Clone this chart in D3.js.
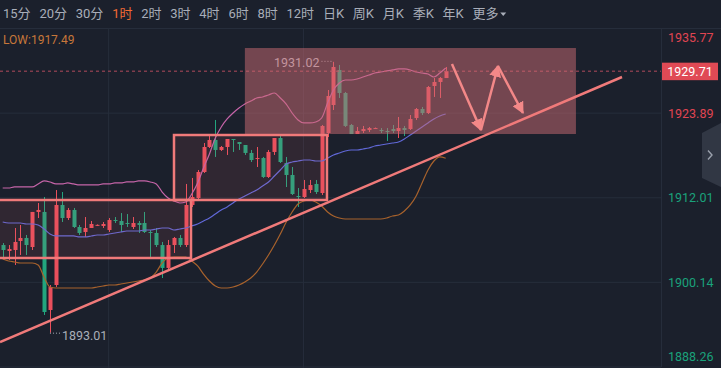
<!DOCTYPE html>
<html>
<head>
<meta charset="utf-8">
<script src="https://cdn.jsdelivr.net/npm/d3@7/dist/d3.min.js"></script>
<style>
  body { margin: 0; background: #1b202c; overflow: hidden; }
  svg { display: block; }
  text { font-family: Roboto, "Noto Sans CJK SC", sans-serif; }
</style>
</head>
<body>
<svg id="chart" width="721" height="368"></svg>
<script>

/* K线 1小时 + 布林带 + 画线 */

const periods = ["15分", "20分", "30分", "1时", "2时", "3时", "4时", "6时", "8时", "12时", "日K", "周K", "月K", "季K", "年K", "更多"];
const activePeriod = "1时";

const opens = [1905.31, 1904.47, 1904.61, 1905.88, 1906.30, 1905.03, 1909.95, 1909.95, 1896.19, 1899.70,
    1910.93, 1909.10, 1910.23, 1907.84, 1907.14, 1907.70, 1908.10, 1907.98, 1907.42, 1908.82,
    1908.68, 1908.40, 1907.84, 1908.40, 1908.40, 1907.14, 1907.00, 1905.31, 1902.09, 1905.31,
    1906.30, 1905.31, 1910.93, 1911.91, 1915.56, 1919.07, 1920.05, 1918.65, 1919.07, 1920.19,
    1919.77, 1919.35, 1918.23, 1917.38, 1917.52, 1914.86, 1918.37, 1920.33, 1916.82, 1915.14,
    1912.19, 1912.05, 1913.03, 1913.88, 1912.61, 1921.03, 1924.96, 1929.88, 1926.65, 1922.16,
    1920.89, 1921.31, 1921.45, 1921.66, 1921.45, 1921.31, 1921.59, 1921.31, 1921.73, 1921.59,
    1923.14, 1924.40, 1923.84, 1927.63, 1928.19, 1928.75];
const highs = [1905.59, 1905.31, 1907.70, 1908.12, 1906.72, 1909.95, 1911.21, 1912.05, 1899.70, 1913.03,
    1912.75, 1910.51, 1910.51, 1908.12, 1909.24, 1908.68, 1908.20, 1908.54, 1909.10, 1909.24,
    1909.80, 1909.66, 1909.24, 1908.68, 1909.95, 1907.42, 1907.70, 1905.74, 1906.02, 1906.44,
    1906.72, 1913.88, 1914.72, 1915.84, 1919.63, 1920.75, 1922.86, 1919.21, 1920.19, 1920.19,
    1919.77, 1919.35, 1918.65, 1919.07, 1917.67, 1918.65, 1920.33, 1920.61, 1917.67, 1916.26,
    1913.31, 1914.44, 1914.44, 1914.44, 1922.16, 1927.07, 1931.02, 1930.58, 1926.79, 1922.30,
    1921.88, 1922.02, 1921.88, 1921.80, 1921.73, 1921.73, 1922.16, 1923.28, 1922.02, 1923.56,
    1924.54, 1924.68, 1927.63, 1928.75, 1928.89, 1930.30];
const lows = [1903.63, 1903.21, 1902.51, 1903.91, 1903.91, 1904.61, 1909.10, 1895.49, 1893.01, 1899.42,
    1908.54, 1908.82, 1907.70, 1906.72, 1906.44, 1907.70, 1908.00, 1907.70, 1907.14, 1908.40,
    1907.14, 1907.84, 1907.56, 1907.00, 1907.00, 1903.63, 1905.03, 1900.68, 1901.81, 1904.19,
    1905.03, 1905.03, 1910.65, 1911.63, 1915.42, 1918.93, 1917.67, 1918.51, 1917.95, 1918.37,
    1918.65, 1917.95, 1916.96, 1916.26, 1914.72, 1914.72, 1917.95, 1916.82, 1913.45, 1912.33,
    1910.65, 1911.91, 1912.61, 1912.47, 1912.33, 1920.47, 1924.26, 1925.95, 1921.88, 1920.89,
    1920.89, 1921.03, 1921.17, 1921.62, 1921.03, 1919.91, 1921.03, 1920.33, 1920.61, 1921.45,
    1922.86, 1923.56, 1923.70, 1926.09, 1925.95, 1928.75];
const closes = [1904.61, 1904.75, 1905.74, 1906.30, 1905.31, 1909.95, 1910.23, 1895.91, 1899.42, 1910.93,
    1909.10, 1910.23, 1907.84, 1907.00, 1907.70, 1908.26, 1908.14, 1908.26, 1908.82, 1908.68,
    1908.12, 1908.26, 1908.40, 1908.12, 1907.14, 1907.00, 1905.31, 1902.09, 1905.31, 1906.30,
    1905.31, 1910.93, 1912.05, 1915.56, 1919.07, 1920.05, 1918.65, 1919.07, 1920.19, 1920.05,
    1919.49, 1918.23, 1917.24, 1917.52, 1914.86, 1918.37, 1920.33, 1916.96, 1915.14, 1912.47,
    1912.05, 1913.17, 1913.73, 1912.75, 1922.02, 1926.23, 1930.30, 1926.65, 1922.02, 1920.89,
    1921.31, 1921.59, 1921.73, 1921.73, 1921.31, 1921.17, 1921.31, 1921.73, 1921.45, 1923.00,
    1924.40, 1923.84, 1927.49, 1928.19, 1928.75, 1929.71];

// Bänder (oben, Mitte, LOW)
const upperBand = [1913.31, 1913.31, 1913.46, 1913.46, 1913.46, 1913.46, 1913.88, 1914.30, 1914.16, 1913.88,
    1913.88, 1914.02, 1913.88, 1913.74, 1913.74, 1913.74, 1913.74, 1913.88, 1913.88, 1914.02,
    1914.02, 1914.16, 1914.16, 1914.30, 1914.30, 1914.16, 1913.88, 1912.75, 1911.91, 1911.49,
    1911.21, 1911.35, 1912.47, 1914.02, 1916.12, 1918.09, 1920.33, 1921.88, 1923.00, 1923.84,
    1924.54, 1925.10, 1925.52, 1925.95, 1926.09, 1926.37, 1926.65, 1925.95, 1925.10, 1923.84,
    1922.86, 1922.44, 1922.44, 1922.58, 1923.14, 1925.24, 1927.07, 1928.05, 1928.47, 1928.47,
    1928.61, 1928.89, 1929.17, 1929.45, 1929.59, 1929.74, 1929.88, 1930.02, 1930.02, 1929.88,
    1929.59, 1929.45, 1929.31, 1928.89, 1929.45, 1930.16];
const midBand = [1908.54, 1908.40, 1908.40, 1908.40, 1908.26, 1908.26, 1908.12, 1907.56, 1906.86, 1906.58,
    1906.58, 1906.58, 1906.58, 1906.44, 1906.44, 1906.58, 1906.72, 1906.72, 1906.86, 1907.00,
    1907.14, 1907.28, 1907.28, 1907.28, 1907.42, 1907.42, 1907.56, 1907.70, 1907.70, 1907.42,
    1907.56, 1907.70, 1907.98, 1908.26, 1908.68, 1909.10, 1909.67, 1910.23, 1910.65, 1911.21,
    1911.77, 1912.19, 1912.61, 1913.03, 1913.59, 1914.16, 1915.00, 1915.84, 1916.68, 1916.96,
    1917.10, 1917.24, 1917.24, 1917.10, 1917.10, 1917.52, 1917.95, 1918.23, 1918.51, 1918.65,
    1918.65, 1918.79, 1918.93, 1919.21, 1919.35, 1919.49, 1919.63, 1919.77, 1920.19, 1920.75,
    1921.31, 1921.88, 1922.44, 1923.00, 1923.42, 1923.70];
const lowBand = [1903.35, 1903.07, 1902.93, 1902.79, 1902.79, 1902.79, 1902.51, 1900.82, 1899.42, 1899.28,
    1899.28, 1899.28, 1899.28, 1899.28, 1899.28, 1899.28, 1899.42, 1899.56, 1899.70, 1899.70,
    1899.84, 1899.98, 1900.12, 1900.26, 1900.40, 1900.68, 1901.52, 1902.79, 1903.49, 1903.63,
    1903.63, 1903.63, 1903.07, 1902.37, 1901.24, 1900.26, 1899.56, 1899.28, 1899.28, 1899.42,
    1899.70, 1900.12, 1900.68, 1901.52, 1902.65, 1903.91, 1905.31, 1906.86, 1908.54, 1909.95,
    1911.07, 1911.49, 1911.63, 1911.35, 1910.79, 1909.95, 1909.38, 1909.10, 1908.96, 1908.96,
    1908.96, 1908.96, 1908.96, 1908.96, 1908.96, 1909.10, 1909.38, 1909.52, 1910.09, 1910.93,
    1912.19, 1914.02, 1915.84, 1917.10, 1917.67, 1917.49];

const axisTicks = [1935.77, 1923.89, 1912.01, 1900.14, 1888.26];
const timeGrid = [17.85, 50.85];
const lastPrice = 1929.71;
const lowValue = 1917.49;
const highMark = [56, 1931.02];
const lowMark = [8, 1893.01];

// Zeichnungen: [Index, Preis]
const boxes = [
    [[-2, 1911.63], [31.88, 1903.49]],
    [[29.0, 1920.75], [54.9, 1911.63]]
];
const zone = [[41.0, 1932.96], [97.05, 1920.89]];
const trendLine = [[-0.457, 1891.70], [104.85, 1928.89]];
const forecast = [[76.06, 1930.72], [80.97, 1921.45], [83.85, 1930.44], [88.08, 1923.84]];

let svg = d3.select("#chart"),
    plotRight = 661,
    plotTop = 28,
    plotBottom = 368,
    upColor = "#ea4f5c",
    downColor = "#22a57e",
    drawColor = "#f07a7a",
    gridColor = "#262d3b";

let x = d3.scaleLinear().domain([0, 75]).range([2.7, 445.7]);
let y = d3.scaleLinear().domain([1888.26, 1935.77]).range([366.5, 28]);

let defs = svg.append("defs");
defs.append("clipPath").attr("id", "plot")
    .append("rect").attr("x", 0).attr("y", plotTop).attr("width", plotRight).attr("height", plotBottom - plotTop);

// Toolbar
let bar = svg.append("g").attr("class", "toolbar");
let px = 3;
periods.forEach(function (p) {
    let t = bar.append("text")
        .attr("x", px)
        .attr("y", 17.5)
        .attr("font-size", 13)
        .attr("fill", p === activePeriod ? "#f26b34" : "#a9aeb9")
        .text(p);
    px += t.node().getComputedTextLength() + 8.75;
});
bar.append("path")
    .attr("d", `M${px - 7},12.5 l6,0 l-3,3.5 z`)
    .attr("fill", "#a9aeb9");

svg.append("line")
    .attr("x1", 0).attr("x2", 721).attr("y1", plotTop + 0.5).attr("y2", plotTop + 0.5)
    .attr("stroke", gridColor);

// Gitter
let gridH = svg.append("g")
    .call(d3.axisLeft(y).tickValues(axisTicks).tickSize(-plotRight).tickFormat(""));
let gridV = svg.append("g")
    .attr("transform", `translate(0,${plotBottom})`)
    .call(d3.axisBottom(x).tickValues(timeGrid).tickSize(-(plotBottom - plotTop)).tickFormat(""));
[gridH, gridV].forEach(function (g) {
    g.select(".domain").remove();
    g.selectAll("line").attr("stroke", gridColor);
});

let plot = svg.append("g").attr("clip-path", "url(#plot)");

// Kerzen
let idx = d3.range(opens.length);
let candles = plot.append("g").selectAll("g")
    .data(idx)
    .enter()
    .append("g")
    .attr("fill", function (i) { return closes[i] >= opens[i] ? upColor : downColor; })
    .attr("stroke", function (i) { return closes[i] >= opens[i] ? upColor : downColor; });
candles.append("line")
    .attr("x1", function (i) { return Math.round(x(i)) + 0.5; })
    .attr("x2", function (i) { return Math.round(x(i)) + 0.5; })
    .attr("y1", function (i) { return y(highs[i]); })
    .attr("y2", function (i) { return y(lows[i]); })
    .attr("stroke-width", 1);
candles.append("rect")
    .attr("stroke", "none")
    .attr("x", function (i) { return Math.round(x(i)) - 1.5; })
    .attr("width", 4)
    .attr("y", function (i) { return y(Math.max(opens[i], closes[i])); })
    .attr("height", function (i) { return Math.max(1, Math.abs(y(opens[i]) - y(closes[i]))); });

// Linien
function bandLine(values, color) {
    plot.append("path")
        .datum(values)
        .attr("fill", "none")
        .attr("stroke", color)
        .attr("stroke-width", 1.2)
        .attr("d", d3.line()
            .x(function (d, i) { return x(i); })
            .y(function (d) { return y(d); })
            .curve(d3.curveMonotoneX));
}
bandLine(upperBand, "#c564a8");
bandLine(midBand, "#6168d8");
bandLine(lowBand, "#a8622c");

// Aktueller Preis
plot.append("line")
    .attr("x1", 0).attr("x2", plotRight)
    .attr("y1", y(lastPrice)).attr("y2", y(lastPrice))
    .attr("stroke", "#b24b5c")
    .attr("stroke-dasharray", "3,3");

// Hoch / Tief Marker
plot.append("line")
    .attr("x1", x(highMark[0]) - 12).attr("x2", x(highMark[0]) - 1)
    .attr("y1", y(highMark[1]) - 0.5).attr("y2", y(highMark[1]) - 0.5)
    .attr("stroke", "#a9aeb9").attr("stroke-dasharray", "1,2");
plot.append("text")
    .attr("x", x(highMark[0]) - 14)
    .attr("y", y(highMark[1]) + 5.5)
    .attr("text-anchor", "end")
    .attr("font-size", 12.5)
    .attr("fill", "#b9bcc6")
    .text(d3.format(".2f")(highMark[1]));
plot.append("line")
    .attr("x1", x(lowMark[0])).attr("x2", x(lowMark[0]) + 11)
    .attr("y1", y(lowMark[1]) + 0.5).attr("y2", y(lowMark[1]) + 0.5)
    .attr("stroke", "#a9aeb9").attr("stroke-dasharray", "1,2");
plot.append("text")
    .attr("x", x(lowMark[0]) + 12)
    .attr("y", y(lowMark[1]) + 7)
    .attr("font-size", 12.5)
    .attr("fill", "#a9aeb9")
    .text(d3.format(".2f")(lowMark[1]));

// Zeichnungen
boxes.forEach(function (b) {
    plot.append("rect")
        .attr("x", x(b[0][0]))
        .attr("y", y(b[0][1]))
        .attr("width", x(b[1][0]) - x(b[0][0]))
        .attr("height", y(b[1][1]) - y(b[0][1]))
        .attr("fill", "rgba(235,110,110,0.1)")
        .attr("stroke", drawColor)
        .attr("stroke-width", 2.5);
});
plot.append("rect")
    .attr("x", x(zone[0][0]))
    .attr("y", y(zone[0][1]))
    .attr("width", x(zone[1][0]) - x(zone[0][0]))
    .attr("height", y(zone[1][1]) - y(zone[0][1]))
    .attr("fill", "rgba(205,108,116,0.5)");

plot.append("line")
    .attr("x1", x(trendLine[0][0])).attr("y1", y(trendLine[0][1]))
    .attr("x2", x(trendLine[1][0])).attr("y2", y(trendLine[1][1]))
    .attr("stroke", drawColor)
    .attr("stroke-width", 2.5);

defs.append("marker")
    .attr("id", "head")
    .attr("markerUnits", "userSpaceOnUse")
    .attr("viewBox", "0 0 10 10")
    .attr("refX", 9).attr("refY", 5)
    .attr("markerWidth", 12).attr("markerHeight", 12)
    .attr("orient", "auto")
    .append("path")
    .attr("d", "M0,0 L10,5 L0,10 z")
    .attr("fill", "#f38888");
d3.pairs(forecast).forEach(function (p) {
    plot.append("line")
        .attr("x1", x(p[0][0])).attr("y1", y(p[0][1]))
        .attr("x2", x(p[1][0])).attr("y2", y(p[1][1]))
        .attr("stroke", "#f38888")
        .attr("stroke-width", 2.5)
        .attr("marker-end", "url(#head)");
});

// LOW Text
svg.append("text")
    .attr("x", 3)
    .attr("y", 44)
    .attr("font-size", 12)
    .attr("fill", "#c7773a")
    .text("LOW:" + d3.format(".2f")(lowValue));

// Preisachse rechts
let axisG = svg.append("g")
    .attr("transform", `translate(${plotRight},0)`)
    .call(d3.axisRight(y).tickValues(axisTicks).tickSize(0).tickPadding(7).tickFormat(d3.format(".2f")));
axisG.select(".domain").attr("stroke", gridColor);
axisG.selectAll(".tick text")
    .attr("font-family", "Roboto, sans-serif")
    .attr("font-size", 12.5)
    .attr("fill", function (d) { return d > lowValue ? "#e04552" : "#1aa27b"; })
    .attr("dy", function (d) {
        return d === d3.max(axisTicks) ? "1.05em" : d === d3.min(axisTicks) ? "-0.45em" : "0.35em";
    });

let tag = svg.append("g").attr("transform", `translate(${plotRight},${y(lastPrice)})`);
tag.append("rect")
    .attr("x", 1).attr("y", -8.5).attr("width", 56).attr("height", 17.5)
    .attr("fill", "#e04a55");
tag.append("text")
    .attr("x", 29).attr("y", 4.5)
    .attr("text-anchor", "middle")
    .attr("font-size", 12.5)
    .attr("fill", "#ffffff")
    .text(d3.format(".2f")(lastPrice));

// Seitenlasche
svg.append("path")
    .attr("d", "M702,133 L721,123 L721,187 L702,178 Z")
    .attr("fill", "#313744");
svg.append("path")
    .attr("d", "M708,150.5 L712,155 L708,159.5")
    .attr("fill", "none")
    .attr("stroke", "#9ba1ad")
    .attr("stroke-width", 1.4);

</script>
</body>
</html>
